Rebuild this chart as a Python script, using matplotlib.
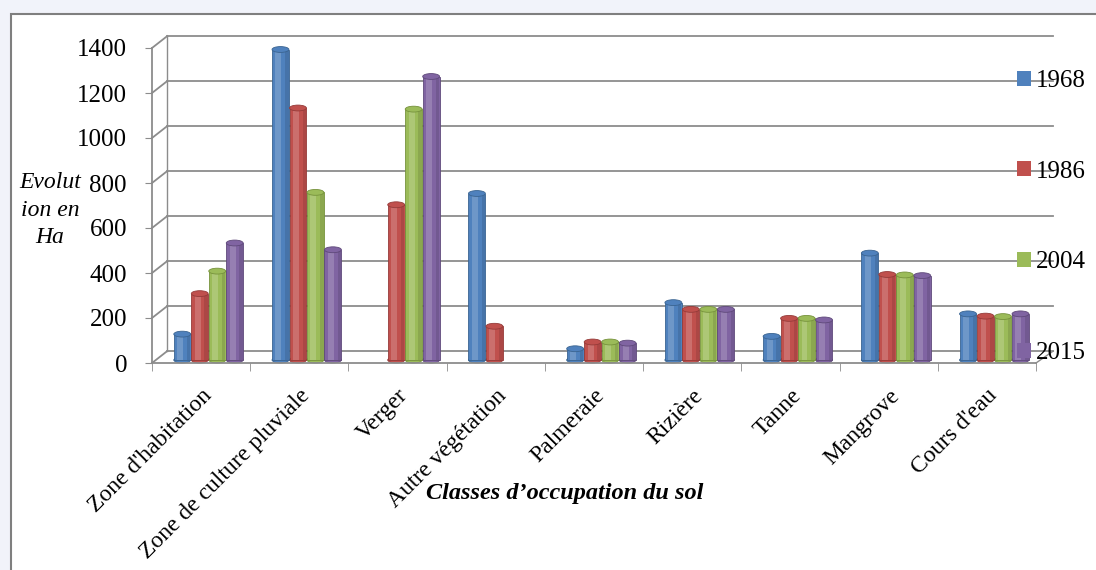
import numpy as np
import matplotlib
matplotlib.use("Agg")
import matplotlib.pyplot as plt
import matplotlib.transforms as mtransforms
from matplotlib.patches import Ellipse, Rectangle, Patch

# data (hectares)
categories = ["Zone d'habitation", "Zone de culture pluviale", "Verger", "Autre végétation",
              "Palmeraie", "Rizière", "Tanne", "Mangrove", "Cours d'eau"]
years = ["1968", "1986", "2004", "2015"]
v1968 = [115, 1380, 0, 740, 50, 255, 105, 475, 205]
v1986 = [295, 1120, 690, 150, 80, 225, 185, 380, 195]
v2004 = [395, 745, 1115, 0, 80, 225, 185, 378, 193]
v2015 = [520, 490, 1260, 0, 75, 225, 178, 375, 205]
yticks = [0, 200, 400, 600, 800, 1000, 1200, 1400]

colors = ["#4F81BD", "#C0504D", "#9BBB59", "#8064A2"]
edges = ["#3A6491", "#953B39", "#76923C", "#5F497A"]

plt.rcParams['font.family'] = ['Liberation Serif', 'DejaVu Serif']

fig = plt.figure(figsize=(10.96, 5.70), dpi=100, facecolor="#F1F3FA")
# white chart frame
fig.patches.append(Rectangle((11/1096, -0.02), 1.1, 1-14/570 + 0.02, transform=fig.transFigure,
                             facecolor="white", edgecolor="#7F7F7F", lw=1.5, zorder=-5))

ax = fig.add_axes([152/1096, 1-363/570, (1036-152)/1096, (363-48)/570])
ax.set_xlim(-0.5, 8.5)
ax.set_ylim(0, 1400)

# back wall of the pseudo 3d box
dx, dy = 0.155, 53
grey = "#8C8C8C"
for v in yticks:
    ax.plot([-0.5 + dx, 8.5 + dx + 0.02], [v + dy, v + dy], color=grey, lw=1.3, zorder=1, clip_on=False)
    ax.plot([-0.5, -0.5 + dx], [v, v + dy], color=grey, lw=1.3, zorder=1, clip_on=False)
ax.plot([-0.5 + dx, -0.5 + dx], [dy, 1400 + dy], color=grey, lw=1.0, zorder=1, clip_on=False)
ax.plot([8.5, 8.5 + dx + 0.02], [0, dy], color=grey, lw=1.0, zorder=1, clip_on=False)

# bars sit a little behind the front edge, so lift them a few pixels
lift = ax.transData + mtransforms.ScaledTranslation(0, 0.03, fig.dpi_scale_trans)

series = [v1968, v1986, v2004, v2015]
x = np.arange(len(categories))
w = 0.172
step = 0.178
shift = 0.075
cap = 26
for i, vals in enumerate(series):
    xs = x + shift + (i - 1.5) * step
    for xi, h in zip(xs, vals):
        if h <= 0:
            continue
        ax.bar(xi, h, width=w, color=colors[i], edgecolor=edges[i], linewidth=0.6, zorder=3,
               transform=lift, clip_on=False)
        # lighter strip to fake the cylinder shading
        ax.bar(xi - w * 0.12, h, width=w * 0.35, color="white", alpha=0.18, linewidth=0, zorder=4,
               transform=lift, clip_on=False)
        ax.bar(xi + w * 0.38, h, width=w * 0.2, color="black", alpha=0.10, linewidth=0, zorder=4,
               transform=lift, clip_on=False)
        ax.add_patch(Ellipse((xi, h), w, cap, facecolor=colors[i], edgecolor=edges[i], lw=0.6, zorder=5,
                             transform=lift, clip_on=False))
        ax.add_patch(Ellipse((xi, 0), w, cap, facecolor=colors[i], edgecolor=edges[i], lw=0.6, zorder=2,
                             transform=lift, clip_on=False))

for s in ["top", "right"]:
    ax.spines[s].set_visible(False)
for s in ["left", "bottom"]:
    ax.spines[s].set_color(grey)
    ax.spines[s].set_linewidth(1.3)
ax.set_yticks(yticks)
ax.set_yticklabels([str(t) for t in yticks], fontsize=18)
ax.tick_params(axis='y', length=5, color=grey, pad=13)
ax.set_xticks(x)
ax.set_xticklabels(categories, rotation=45, ha='right', rotation_mode='anchor', fontsize=17)
ax.tick_params(axis='x', length=0, pad=16)
ax.set_xticks(np.arange(-0.5, 9, 1), minor=True)
ax.tick_params(axis='x', which='minor', length=6, color=grey)
ax.patch.set_alpha(0)

fig.text(50/1096, 1-210/570, "Evolut\nion en\nHa", ha='center', va='center', fontsize=17,
         style='italic', linespacing=1.42)
fig.text(565/1096, 1-493/570, "Classes d’occupation du sol", ha='center', va='center',
         fontsize=17.5, style='italic', weight='bold')

handles = [Patch(facecolor=c, edgecolor='none') for c in colors]
fig.legend(handles, years, loc='upper left', bbox_to_anchor=(1017/1096, 1-70/570), frameon=False,
           fontsize=18, handlelength=0.55, handleheight=0.55, handletextpad=0.2, labelspacing=2.75,
           borderaxespad=0, borderpad=0)

fig.savefig("out.png", dpi=100, facecolor=fig.get_facecolor())
